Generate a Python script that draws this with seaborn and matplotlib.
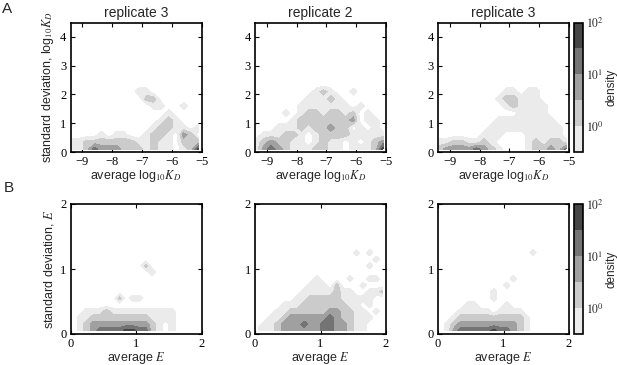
import numpy as np
import matplotlib
matplotlib.use("Agg")
import matplotlib.pyplot as plt
import seaborn as sns

# grid centres of the binned density maps
kd_x = [-9.35, -9.1, -8.85, -8.6, -8.35, -8.1, -7.85, -7.6, -7.35, -7.1,
        -6.85, -6.6, -6.35, -6.1, -5.85, -5.6, -5.35, -5.1]
kd_y = [0.1, 0.35, 0.6, 0.85, 1.1, 1.35, 1.6, 1.85, 2.1, 2.35]
e_x = [0.05, 0.15, 0.25, 0.35, 0.45, 0.55, 0.65, 0.75, 0.85, 0.95,
       1.05, 1.15, 1.25, 1.35, 1.45, 1.55, 1.65, 1.75, 1.85, 1.95]
e_y = [0.05, 0.15, 0.25, 0.35, 0.45, 0.55, 0.65, 0.75, 0.85, 0.95,
       1.05, 1.15, 1.25, 1.35]

# density band per cell (0 = empty, 1..5 = band), top row first
kd_rep3a = [
    "000000000000000000",
    "000000000110000000",
    "000000000022000000",
    "000000000001100100",
    "000000000000010000",
    "000000000000121000",
    "000000000001221101",
    "000010110012210320",
    "112222222112110222",
    "112433322212110125",
]
kd_rep2 = [
    "000000000000000000",
    "000000001210010000",
    "000000011121000000",
    "000000111111101000",
    "000010122122120100",
    "000001222222230110",
    "000111212232201010",
    "011122101222211111",
    "123221101211010123",
    "134321112211011125",
]
kd_rep3b = [
    "000000000000000000",
    "000000000110110000",
    "000000001221110000",
    "000000000121111000",
    "000000000001111000",
    "000000001111111100",
    "000000011111111110",
    "000000111000111110",
    "112211210000121221",
    "233334321000122324",
]
e_rep3a = [
    "00000000000000000000",
    "00000000000000000000",
    "00000000000000000000",
    "00000000000200000000",
    "00000000000010000000",
    "00000000000000000000",
    "00000000000000000000",
    "00000000000000000000",
    "00000002011000000000",
    "00000000000000000000",
    "00111211111111110000",
    "01122222222211110000",
    "01233333333321010000",
    "01234444554421010000",
]
e_rep2 = [
    "00000000000000000000",
    "00000000000000010100",
    "00000000000000000010",
    "00000000000000000100",
    "00000000000000000000",
    "00000000010000100110",
    "00000000111020001000",
    "00000001111121100112",
    "00000011222221111100",
    "00001112222222110100",
    "00011222222332211010",
    "00112333333432211100",
    "01123334334433211000",
    "11123333334433211000",
]
e_rep3b = [
    "00000000000000000000",
    "00000000000000100000",
    "00000000000000000000",
    "00000000000000000000",
    "00000000000000000000",
    "00000000000100000000",
    "00000000001000000000",
    "00000000100000000000",
    "00000000100000000000",
    "00001100001000000000",
    "00011111011110000000",
    "00122222222221000000",
    "01233333333321000000",
    "01344444544321000000",
]

titles = ["replicate 3", "replicate 2", "replicate 3"]
log_levels = [-0.5, 0, 0.5, 1, 1.5, 2]
band_colors = ["#ebebeb", "#cbcbcb", "#a0a0a0", "#747474", "#454545"]


def log_density(rows):
    codes = np.array([[int(c) for c in r] for r in rows[::-1]], dtype=float)
    return 0.5 * codes - 0.75


sns.set_theme(style="ticks")
plt.rcParams.update({
    "font.family": ["Liberation Sans", "DejaVu Sans"],
    "mathtext.fontset": "stix",
    "xtick.direction": "in", "ytick.direction": "in",
    "xtick.top": True, "ytick.right": True,
    "xtick.major.size": 3, "ytick.major.size": 3,
    "axes.linewidth": 1.2, "axes.edgecolor": "black",
})
serif = {"family": "Liberation Serif", "size": 9}

fig = plt.figure(figsize=(6.17, 3.65), dpi=100)
W, H = 617, 365
lefts = [70.5, 255, 438]
rows = [
    dict(top=22.5, bottom=152, x=kd_x, y=kd_y, data=[kd_rep3a, kd_rep2, kd_rep3b],
         xlim=(-9.4, -5), ylim=(0, 4.5), xticks=[-9, -8, -7, -6, -5], yticks=[0, 1, 2, 3, 4],
         xlabel=r"average log$_{10}K_D$", ylabel=r"standard deviation, log$_{10}K_D$"),
    dict(top=204, bottom=334, x=e_x, y=e_y, data=[e_rep3a, e_rep2, e_rep3b],
         xlim=(0, 2), ylim=(0, 2), xticks=[0, 1, 2], yticks=[0, 1, 2],
         xlabel=r"average $E$", ylabel=r"standard deviation, $E$"),
]

for ri, row in enumerate(rows):
    for ci, left in enumerate(lefts):
        ax = fig.add_axes([left / W, 1 - row["bottom"] / H, 131 / W,
                           (row["bottom"] - row["top"]) / H])
        cs = ax.contourf(row["x"], row["y"], log_density(row["data"][ci]),
                         levels=log_levels, colors=band_colors)
        ax.set_xlim(*row["xlim"])
        ax.set_ylim(*row["ylim"])
        ax.set_xticks(row["xticks"])
        ax.set_yticks(row["yticks"])
        ax.set_xticklabels([f"{t:g}".replace("-", "\u2212") for t in row["xticks"]], fontdict=serif)
        ax.set_yticklabels([f"{t:g}" for t in row["yticks"]], fontdict=serif)
        ax.tick_params(colors="black", width=0.8, pad=3)
        ax.set_xlabel(row["xlabel"], fontsize=9, labelpad=0)
        if ci == 0:
            ax.set_ylabel(row["ylabel"], fontsize=9, labelpad=3)
        if ri == 0:
            ax.set_title(titles[ci], fontsize=10, pad=4)
    cax = fig.add_axes([574 / W, 1 - row["bottom"] / H, 9 / W,
                        (row["bottom"] - row["top"]) / H])
    cb = fig.colorbar(cs, cax=cax, ticks=[0, 1, 2])
    cb.ax.set_yticklabels([r"$10^{0}$", r"$10^{1}$", r"$10^{2}$"], fontsize=8.5)
    cb.ax.tick_params(length=0, pad=2)
    cb.outline.set_linewidth(1.2)
    cb.set_label("density", fontsize=8.5, labelpad=1)

fig.text(0.004, 0.995, "A", fontsize=11, va="top")
fig.text(0.006, 0.505, "B", fontsize=11, va="top")

fig.savefig("out.png", dpi=100)
